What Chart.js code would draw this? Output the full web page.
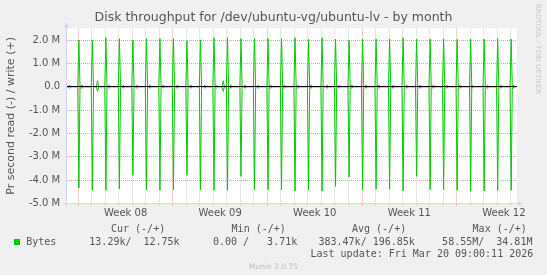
<!DOCTYPE html>
<html>
<head>
<meta charset="utf-8">
<title>Disk throughput for /dev/ubuntu-vg/ubuntu-lv - by month</title>
<script src="https://cdn.jsdelivr.net/npm/chart.js@4.4.1/dist/chart.umd.min.js"></script>
<style>
  html, body { margin: 0; padding: 0; background: #f0f0f0; }
  #wrap { position: relative; width: 547px; height: 275px; overflow: hidden; }
  #myChart { position: absolute; left: 0; top: 0; }
  .mono { position: absolute; white-space: pre; font-family: "DejaVu Sans Mono", monospace; font-size: 10px; line-height: 12px; color: #555; }
  .swatch { position: absolute; width: 6px; height: 6px; background: #00cc00; }
  #rrdtool { position: absolute; left: 534px; top: 4px; writing-mode: vertical-rl; white-space: pre; font-family: "DejaVu Sans", sans-serif; font-size: 7px; line-height: 8px; color: #c8c8c8; }
  #munin { position: absolute; left: 0; width: 547px; top: 262px; text-align: center; font-family: "DejaVu Sans", sans-serif; font-size: 7.5px; line-height: 9px; color: #bdbdbd; }
</style>
</head>
<body>
<div id="wrap">
  <canvas id="myChart" width="547" height="275"></canvas>
  <div id="rrdtool">RRDTOOL / TOBI OETIKER</div>
  <div id="munin">Munin 2.0.75</div>
</div>
<script>
// x = days since Mon 16 Feb 2026 00:00, y = MB per second
const weekLabels = ['Week 08', 'Week 09', 'Week 10', 'Week 11', 'Week 12'];
const weekStarts = [0, 7, 14, 21, 28];
const xMin = -0.86;
const xMax = 32.45;

// nightly burst, one per day around 01:00
const spikeDays = [0, 1, 2, 3, 4, 5, 6, 7, 8, 9, 10, 11, 12, 13, 14, 15, 16,
                   17, 18, 19, 20, 21, 22, 23, 24, 25, 26, 27, 28, 29, 30, 31, 32];
const spikeHour = 1;
const writePeaks = [2.00, 2.00, 2.10, 2.06, 2.00, 2.06, 2.06, 2.06, 1.97, 2.00, 2.10, 2.10, 2.06, 2.06, 2.06, 2.06, 2.10,
                    2.03, 2.10, 2.04, 2.00, 2.04, 2.04, 2.04, 2.10, 2.04, 2.04, 2.04, 2.03, 2.04, 2.04, 2.06, 2.04];
const readPeaks = [-4.34, -4.44, -4.44, -4.37, -3.80, -4.41, -4.44, -4.41, -3.80, -4.41, -4.44, -4.44, -3.84, -4.41, -4.41, -4.41, -4.47,
                   -4.41, -4.47, -4.27, -3.87, -4.41, -4.39, -4.39, -4.47, -3.84, -4.41, -4.41, -4.44, -4.47, -4.47, -4.44, -4.44];

// small activity a few hours after each burst
const bumpDays = [-0.65, 0.27, 1.42, 2.29, 3.33, 4.32, 5.31, 6.29, 7.33, 8.34, 9.36, 10.24, 10.73, 11.30, 12.34, 13.32,
                  14.24, 15.25, 16.24, 17.22, 18.41, 19.32, 20.26, 21.30, 22.26, 23.30, 24.31, 25.29, 26.28, 27.27,
                  28.25, 29.14, 30.29, 31.29, 32.20];
const bumpWrite = [0.07, 0.07, 0.26, 0.07, 0.07, 0.07, 0.07, 0.07, 0.07, 0.07, 0.07, 0.07, 0.26, 0.07, 0.07, 0.07,
                   0.07, 0.07, 0.07, 0.07, 0.07, 0.07, 0.07, 0.07, 0.07, 0.07, 0.07, 0.07, 0.07, 0.07,
                   0.07, 0.07, 0.07, 0.07, 0.07];
const bumpRead = [-0.07, -0.07, -0.20, -0.07, -0.07, -0.07, -0.07, -0.07, -0.07, -0.07, -0.07, -0.07, -0.20, -0.07, -0.07, -0.07,
                  -0.07, -0.07, -0.07, -0.07, -0.07, -0.07, -0.07, -0.07, -0.07, -0.07, -0.07, -0.07, -0.07, -0.07,
                  -0.07, -0.07, -0.07, -0.07, -0.07];

const yMin = -5, yMax = 2.5, yStep = 0.5;

// legend table
const seriesName = 'Bytes';
const statNames = ['Cur', 'Min', 'Avg', 'Max'];
const statRead = ['13.29k', '0.00 ', '383.47k', '58.55M'];
const statWrite = ['12.75k', '3.71k', '196.85k', '34.81M'];
const lastUpdate = 'Fri Mar 20 09:00:11 2026';

const lineColor = '#00cc00';
const gridMinor = 'rgba(191,191,191,0.75)';
const gridMajor = 'rgba(230,128,128,0.75)';
const axisColor = '#cfd6f8';
const textColor = '#555';

// the month graph uses 2 hour steps, so each sample rises from and falls back to the baseline
const BIN = 1 / 12;
function buildSeries(peaks, bumps) {
    const samples = [];
    spikeDays.forEach((d, i) => samples.push([d + spikeHour / 24, peaks[i]]));
    bumpDays.forEach((d, i) => samples.push([d, bumps[i]]));
    samples.sort((a, b) => a[0] - b[0]);
    const pts = [{x: xMin, y: 0}];
    samples.forEach(([t, v]) => {
        pts.push({x: t - BIN, y: 0}, {x: t, y: v}, {x: t + BIN, y: 0});
    });
    pts.push({x: xMax, y: 0});
    return pts;
}

const isWhole = v => Math.abs(v - Math.round(v)) < 1e-6;

const plotBg = {
    id: 'plotBg',
    beforeDraw(chart) {
        const a = chart.chartArea, c = chart.ctx;
        c.save();
        c.fillStyle = '#ffffff';
        c.fillRect(a.left, a.top, a.right - a.left, a.bottom - a.top);
        c.restore();
    }
};

const zeroLine = {
    id: 'zeroLine',
    afterDatasetsDraw(chart) {
        const a = chart.chartArea, c = chart.ctx;
        const y = Math.round(chart.scales.y.getPixelForValue(0) - 0.5) + 0.5;
        c.save();
        c.strokeStyle = '#000';
        c.lineWidth = 1;
        c.beginPath();
        c.moveTo(a.left, y);
        c.lineTo(a.right, y);
        c.stroke();
        c.restore();
    }
};

const arrows = {
    id: 'arrows',
    afterDraw(chart) {
        const a = chart.chartArea, c = chart.ctx;
        const yb = Math.round(a.bottom - 0.5) + 0.5;
        const xl = Math.round(a.left - 0.5) + 0.5;
        c.save();
        c.strokeStyle = axisColor;
        c.fillStyle = axisColor;
        c.lineWidth = 1;
        c.beginPath();
        c.moveTo(xl - 3, yb); c.lineTo(a.right + 2, yb);
        c.moveTo(xl, yb + 3); c.lineTo(xl, a.top - 2);
        c.stroke();
        c.beginPath();
        c.moveTo(a.right + 1, yb - 2.5); c.lineTo(a.right + 6, yb); c.lineTo(a.right + 1, yb + 2.5);
        c.closePath(); c.fill();
        c.beginPath();
        c.moveTo(xl - 2.5, a.top - 1); c.lineTo(xl, a.top - 6); c.lineTo(xl + 2.5, a.top - 1);
        c.closePath(); c.fill();
        c.restore();
    }
};

Chart.defaults.font.family = "'DejaVu Sans', sans-serif";
Chart.defaults.color = textColor;

const ctx = document.getElementById('myChart').getContext('2d');
const chart = new Chart(ctx, {
    type: 'line',
    data: {
        datasets: [
            { label: 'write', data: buildSeries(writePeaks, bumpWrite), borderColor: lineColor, borderWidth: 1, pointRadius: 0, tension: 0, fill: false },
            { label: 'read', data: buildSeries(readPeaks, bumpRead), borderColor: lineColor, borderWidth: 1, pointRadius: 0, tension: 0, fill: false }
        ]
    },
    options: {
        responsive: false,
        animation: false,
        events: [],
        layout: { padding: { left: 0, right: 0, top: 0, bottom: 51.6 } },
        plugins: {
            legend: { display: false },
            tooltip: { enabled: false },
            title: {
                display: true,
                text: 'Disk throughput for /dev/ubuntu-vg/ubuntu-lv - by month',
                color: textColor,
                font: { size: 12.5, weight: 'normal' },
                padding: { top: 10.3, bottom: 3.1 }
            }
        },
        scales: {
            x: {
                type: 'linear',
                min: xMin,
                max: xMax,
                afterBuildTicks: axis => {
                    const t = [];
                    for (let d = Math.ceil(xMin); d <= xMax; d++) t.push({value: d});
                    weekStarts.forEach(w => t.push({value: w + 3.5}));
                    t.sort((p, q) => p.value - q.value);
                    axis.ticks = t;
                },
                afterFit: s => { s.height = 20; s.paddingLeft = 0; s.paddingRight = 0; },
                ticks: {
                    autoSkip: false,
                    maxRotation: 0,
                    padding: 1.6,
                    color: textColor,
                    font: { size: 10 },
                    callback: v => {
                        const k = weekStarts.indexOf(v - 3.5);
                        return k >= 0 ? weekLabels[k] : '';
                    }
                },
                grid: {
                    tickLength: 2,
                    color: c => weekStarts.includes(c.tick.value) ? gridMajor : gridMinor,
                    lineWidth: c => isWhole(c.tick.value) ? 1 : 0
                },
                border: { display: true, color: axisColor, dash: [1, 1] }
            },
            y: {
                type: 'linear',
                min: yMin,
                max: yMax,
                afterFit: s => { s.width = 66.7; s.paddingTop = 0; s.paddingBottom = 0; },
                ticks: {
                    stepSize: yStep,
                    maxTicksLimit: 40,
                    padding: 6.5,
                    color: textColor,
                    font: { size: 10 },
                    callback: v => isWhole(v) ? (v === 0 ? '0.0' : v.toFixed(1) + ' M') : ''
                },
                grid: {
                    drawTicks: false,
                    color: c => isWhole(c.tick.value) ? gridMajor : gridMinor
                },
                border: { display: true, color: axisColor, dash: [1, 1] },
                title: {
                    display: true,
                    text: 'Pr second read (-) / write (+)',
                    color: textColor,
                    font: { size: 11 },
                    padding: { top: 4.6, bottom: 0 }
                }
            },
            yr: {
                type: 'linear',
                position: 'right',
                display: true,
                grid: { display: false, drawTicks: false },
                ticks: { display: false },
                border: { display: false },
                afterFit: s => { s.width = 30.3; s.paddingTop = 0; s.paddingBottom = 0; }
            }
        }
    },
    plugins: [plotBg, zeroLine, arrows]
});

// legend table under the plot
const wrap = document.getElementById('wrap');
function addText(text, left, top) {
    const d = document.createElement('div');
    d.className = 'mono';
    d.style.left = left + 'px';
    d.style.top = top + 'px';
    d.textContent = text;
    wrap.appendChild(d);
}
const headerX = [111, 231.6, 352, 472.6];
statNames.forEach((n, k) => addText(n + ' (-/+)', headerX[k], 223));
const sw = document.createElement('div');
sw.className = 'swatch';
sw.style.left = '14px';
sw.style.top = '239px';
wrap.appendChild(sw);
addText(seriesName, 26.2, 235.5);
statNames.forEach((n, k) => addText(statRead[k].padStart(7) + '/' + statWrite[k].padStart(8), 83.3 + 117.6 * k, 235.5));
addText('Last update: ' + lastUpdate, 310.5, 248);
</script>
</body>
</html>
